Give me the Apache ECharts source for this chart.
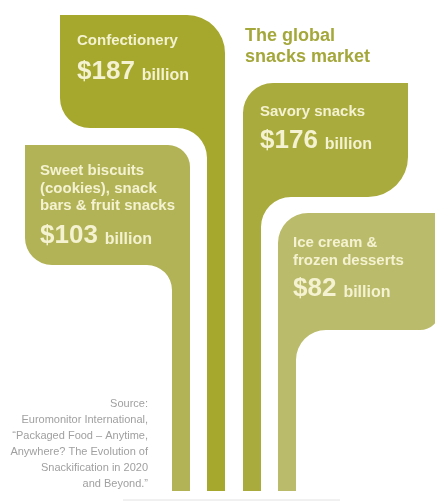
<!DOCTYPE html>
<html>
<head>
<meta charset="utf-8">
<script src="https://cdn.jsdelivr.net/npm/echarts@6/dist/echarts.min.js"></script>
<style>
  html, body { margin: 0; padding: 0; background: #ffffff; }
  #chart { width: 435px; height: 502px; }
</style>
</head>
<body>
<div id="chart"></div>
<script>
// Market size per snack category (US$ billion)
const categories = [
  'Confectionery',
  'Savory snacks',
  'Sweet biscuits\n(cookies), snack\nbars & fruit snacks',
  'Ice cream &\nfrozen desserts'
];
const values = [187, 176, 103, 82];
const currency = '$';
const unitLabel = 'billion';
const titleLines = ['The global', 'snacks market'];
const sourceLines = [
  'Source:',
  'Euromonitor International,',
  '\u201CPackaged Food \u2013 Anytime,',
  'Anywhere? The Evolution of',
  'Snackification in 2020',
  'and Beyond.\u201D'
];

// Leaf geometry, in page units (x rightwards, y downwards).
// side: which edge of the leaf carries the stem.
const leafLayout = [
  { side: 'right', left: 60,  top: 15,  right: 225, bottom: 128, rTop: 38, rBottom: 30, fillet: 30,
    textX: 77,  labelY: 41,  valueY: 71.5 },
  { side: 'left',  left: 243, top: 83,  right: 408, bottom: 197, rTop: 30, rBottom: 40, fillet: 30,
    textX: 260, labelY: 112, valueY: 141 },
  { side: 'right', left: 25,  top: 145, right: 190, bottom: 265, rTop: 22, rBottom: 27, fillet: 25,
    textX: 40,  labelY: 171, valueY: 236 },
  { side: 'left',  left: 278, top: 213, right: 440, bottom: 330, rTop: 30, rBottom: 20, fillet: 30,
    textX: 293, labelY: 243, valueY: 289 }
];
const stemWidth = 18;
const stemBase = 491;
const labelLineHeight = 17.5;

const leafColors = ['#a5a82d', '#a9ab3d', '#b1b356', '#bbbc6b'];
const inkColor = '#f4f2d0';
const titleColor = '#a4a73a';
const fontFamily = "'Liberation Sans', Arial, Helvetica, sans-serif";

const valueFont = 'bold 26px ' + fontFamily;
const unitFont = 'bold 16px ' + fontFamily;
const labelFont = 'bold 15px ' + fontFamily;

const measureCtx = document.createElement('canvas').getContext('2d');
function textWidth(str, font) {
  measureCtx.font = font;
  return measureCtx.measureText(str).width;
}

function leafPath(api, g) {
  const P = (x, y) => api.coord([x, y]);
  const k = api.size([1, 0])[0];
  const fmt = (p) => p[0].toFixed(2) + ' ' + p[1].toFixed(2);
  const arc = (r, sweep, p) => 'A ' + (r * k) + ' ' + (r * k) + ' 0 0 ' + sweep + ' ' + fmt(p);
  const f = g.fillet;
  if (g.side === 'right') {
    const sl = g.right - stemWidth;
    return [
      'M ' + fmt(P(g.left, g.top)),
      'L ' + fmt(P(g.right - g.rTop, g.top)),
      arc(g.rTop, 1, P(g.right, g.top + g.rTop)),
      'L ' + fmt(P(g.right, stemBase)),
      'L ' + fmt(P(sl, stemBase)),
      'L ' + fmt(P(sl, g.bottom + f)),
      arc(f, 0, P(sl - f, g.bottom)),
      'L ' + fmt(P(g.left + g.rBottom, g.bottom)),
      arc(g.rBottom, 1, P(g.left, g.bottom - g.rBottom)),
      'Z'
    ].join(' ');
  }
  const sr = g.left + stemWidth;
  return [
    'M ' + fmt(P(g.left, g.top + g.rTop)),
    arc(g.rTop, 1, P(g.left + g.rTop, g.top)),
    'L ' + fmt(P(g.right, g.top)),
    'L ' + fmt(P(g.right, g.bottom - g.rBottom)),
    arc(g.rBottom, 1, P(g.right - g.rBottom, g.bottom)),
    'L ' + fmt(P(sr + f, g.bottom)),
    arc(f, 0, P(sr, g.bottom + f)),
    'L ' + fmt(P(sr, stemBase)),
    'L ' + fmt(P(g.left, stemBase)),
    'Z'
  ].join(' ');
}

function renderLeaf(params, api) {
  const i = api.value(0);
  const value = api.value(1);
  const g = leafLayout[i];
  const textPos = api.coord([g.textX, g.labelY]);
  const valuePos = api.coord([g.textX, g.valueY]);
  const valueText = currency + value;
  const unitX = valuePos[0] + textWidth(valueText, valueFont) + 7;
  return {
    type: 'group',
    children: [
      {
        type: 'path',
        shape: { pathData: leafPath(api, g) },
        style: { fill: leafColors[i] }
      },
      {
        type: 'text',
        x: textPos[0],
        y: textPos[1] - labelLineHeight / 2,
        style: {
          text: categories[i],
          font: labelFont,
          fill: inkColor,
          lineHeight: labelLineHeight,
          align: 'left',
          verticalAlign: 'top'
        }
      },
      {
        type: 'text',
        x: valuePos[0],
        y: valuePos[1],
        style: { text: valueText, font: valueFont, fill: inkColor, align: 'left', verticalAlign: 'middle' }
      },
      {
        type: 'text',
        x: unitX,
        y: valuePos[1] + 3.6,
        style: { text: unitLabel, font: unitFont, fill: inkColor, align: 'left', verticalAlign: 'middle' }
      }
    ]
  };
}

const chart = echarts.init(document.getElementById('chart'), null, { renderer: 'canvas' });
chart.setOption({
  backgroundColor: '#ffffff',
  animation: false,
  title: {
    text: titleLines.join('\n'),
    left: 245,
    top: 25,
    padding: 0,
    textStyle: {
      fontFamily: fontFamily,
      fontSize: 18,
      fontWeight: 'bold',
      color: titleColor,
      lineHeight: 21.5
    }
  },
  grid: { left: 0, right: 0, top: 0, bottom: 0 },
  xAxis: { type: 'value', min: 0, max: 435, show: false },
  yAxis: { type: 'value', min: 0, max: 502, inverse: true, show: false },
  graphic: [
    {
      type: 'text',
      x: 148,
      y: 396,
      style: {
        text: sourceLines.join('\n'),
        font: '11px ' + fontFamily,
        fill: '#a0a0a0',
        lineHeight: 16,
        align: 'right',
        verticalAlign: 'top'
      }
    },
    {
      type: 'line',
      shape: { x1: 123, y1: 500, x2: 340, y2: 500 },
      style: { stroke: '#e2e2e2', lineWidth: 1 }
    }
  ],
  series: [
    {
      type: 'custom',
      clip: false,
      silent: true,
      renderItem: renderLeaf,
      encode: { x: 0, y: 1 },
      data: values.map((v, i) => [i, v])
    }
  ]
});
</script>
</body>
</html>
